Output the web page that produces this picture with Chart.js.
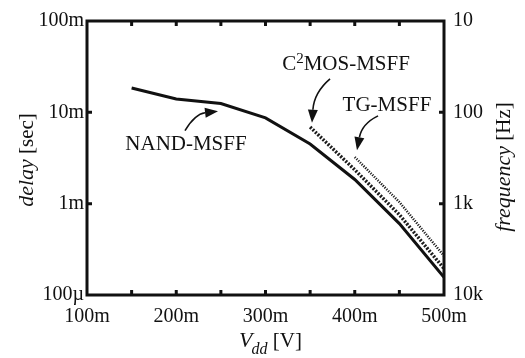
<!DOCTYPE html>
<html>
<head>
<meta charset="utf-8">
<script src="https://cdn.jsdelivr.net/npm/chart.js@4/dist/chart.umd.min.js"></script>
<style>
  html, body { margin: 0; padding: 0; background: #fff; }
  #wrap { width: 525px; height: 358px; }
</style>
</head>
<body>
<div id="wrap"><canvas id="delayChart" width="525" height="358"></canvas></div>
<script>
// supply voltage [V]
const vddNand = [0.15, 0.2, 0.25, 0.3, 0.35, 0.4, 0.45, 0.5];
const delayNand = [18.5e-3, 14.0e-3, 12.5e-3, 8.7e-3, 4.5e-3, 1.84e-3, 0.605e-3, 0.156e-3];
const vddC2mos = [0.35, 0.4, 0.45, 0.5];
const delayC2mos = [6.9e-3, 2.35e-3, 0.757e-3, 0.195e-3];
const vddTg = [0.4, 0.45, 0.5];
const delayTg = [3.24e-3, 1.04e-3, 0.268e-3];

const xTickValues = [0.1, 0.2, 0.3, 0.4, 0.5];
const xTickLabels = ["100m", "200m", "300m", "400m", "500m"];
const xMinorTicks = [0.15, 0.2, 0.25, 0.3, 0.35, 0.4, 0.45];
const delayTicks = [1e-4, 1e-3, 1e-2, 1e-1];
const delayTickLabels = ["100\u00b5", "1m", "10m", "100m"];
const freqTickLabels = ["10k", "1k", "100", "10"];

// annotation arrows, in data units: text centre, tail, bend, tip
const notes = [
  { text: "NAND-MSFF", at: [0.2109, 4.58e-3], tail: [0.2098, 6.31e-3], bend: [0.2210, 9.6e-3], tip: [0.2468, 1.03e-2] },
  { text: "C|2|MOS-MSFF", at: [0.3902, 0.0346], tail: [0.3723, 0.0233], bend: [0.3544, 0.0165], tip: [0.3521, 7.69e-3] },
  { text: "TG-MSFF", at: [0.4361, 0.01227], tail: [0.4261, 9.14e-3], bend: [0.4081, 7.5e-3], tip: [0.4025, 3.85e-3] }
];

const SERIF = "'Liberation Serif', 'Times New Roman', serif";
Chart.defaults.font.family = SERIF;
Chart.defaults.font.size = 20;
Chart.defaults.color = "#111";

const toPts = (xs, ys) => xs.map((x, i) => ({ x: x, y: ys[i] }));

// frame, inward ticks, axis titles and the arrow notes
const decorPlugin = {
  id: "decor",
  afterDraw(chart) {
    const ctx = chart.ctx;
    const a = chart.chartArea;
    const xs = chart.scales.x, ys = chart.scales.y;
    ctx.save();
    ctx.strokeStyle = "#111";
    ctx.fillStyle = "#111";

    ctx.lineWidth = 3;
    ctx.strokeRect(a.left, a.top, a.right - a.left, a.bottom - a.top);

    ctx.beginPath();
    xMinorTicks.forEach(v => {
      const p = xs.getPixelForValue(v);
      ctx.moveTo(p, a.bottom); ctx.lineTo(p, a.bottom - 5);
      ctx.moveTo(p, a.top); ctx.lineTo(p, a.top + 5);
    });
    delayTicks.slice(1, -1).forEach(v => {
      const p = ys.getPixelForValue(v);
      ctx.moveTo(a.left, p); ctx.lineTo(a.left + 5, p);
      ctx.moveTo(a.right, p); ctx.lineTo(a.right - 5, p);
    });
    ctx.stroke();

    // x title: V_dd [V]
    ctx.textBaseline = "alphabetic";
    ctx.textAlign = "left";
    const fV = "italic 22px " + SERIF, fSub = "italic 16px " + SERIF, fN = "21px " + SERIF;
    ctx.font = fV; const wV = ctx.measureText("V").width;
    ctx.font = fSub; const wS = ctx.measureText("dd").width;
    ctx.font = fN; const wB = ctx.measureText(" [V]").width;
    let x0 = 271 - (wV + wS + wB) / 2;
    ctx.font = fV; ctx.fillText("V", x0, 347);
    ctx.font = fSub; ctx.fillText("dd", x0 + wV - 1, 354);
    ctx.font = fN; ctx.fillText(" [V]", x0 + wV + wS - 1, 347);

    // rotated y titles
    const vTitle = (cx, cy, it, rest) => {
      ctx.save();
      ctx.translate(cx, cy);
      ctx.rotate(-Math.PI / 2);
      ctx.textBaseline = "middle";
      ctx.font = "italic 22px " + SERIF; const w1 = ctx.measureText(it).width;
      ctx.font = "21px " + SERIF; const w2 = ctx.measureText(rest).width;
      const s = -(w1 + w2) / 2;
      ctx.font = "italic 22px " + SERIF; ctx.fillText(it, s, 0);
      ctx.font = "21px " + SERIF; ctx.fillText(rest, s + w1, 0);
      ctx.restore();
    };
    vTitle(27, 160, "delay", " [sec]");
    vTitle(504, 167, "frequency", " [Hz]");

    // notes
    notes.forEach(n => {
      const P = p => [xs.getPixelForValue(p[0]), ys.getPixelForValue(p[1])];
      const c = P(n.at), t = P(n.tail), b = P(n.bend), h = P(n.tip);
      const parts = n.text.split("|");
      const big = "21px " + SERIF, small = "15px " + SERIF;
      let total = 0;
      parts.forEach((s, i) => { ctx.font = i === 1 ? small : big; total += ctx.measureText(s).width; });
      let px = c[0] - total / 2;
      parts.forEach((s, i) => {
        ctx.font = i === 1 ? small : big;
        ctx.fillText(s, px, c[1] + 7 - (i === 1 ? 7 : 0));
        px += ctx.measureText(s).width;
      });
      const ang = Math.atan2(h[1] - b[1], h[0] - b[0]);
      const L = 13, W = 5;
      const bx = h[0] - L * Math.cos(ang), by = h[1] - L * Math.sin(ang);
      ctx.lineWidth = 1.6;
      ctx.beginPath();
      ctx.moveTo(t[0], t[1]);
      ctx.quadraticCurveTo(b[0], b[1], bx, by);
      ctx.stroke();
      ctx.beginPath();
      ctx.moveTo(h[0], h[1]);
      ctx.lineTo(bx + W * Math.sin(ang), by - W * Math.cos(ang));
      ctx.lineTo(bx - W * Math.sin(ang), by + W * Math.cos(ang));
      ctx.closePath();
      ctx.fill();
    });
    ctx.restore();
  }
};

const tickLabel = labels => v => labels[delayTicks.findIndex(d => Math.abs(d - v) / d < 1e-6)];
const setDecades = s => { s.ticks = delayTicks.map(v => ({ value: v })); };

new Chart(document.getElementById("delayChart"), {
  type: "line",
  data: {
    datasets: [
      { label: "NAND-MSFF", data: toPts(vddNand, delayNand), borderColor: "#111", borderWidth: 3, pointRadius: 0 },
      { label: "C2MOS-MSFF", data: toPts(vddC2mos, delayC2mos), borderColor: "#1c1c1c", borderWidth: 3.5, borderDash: [2, 1.5], pointRadius: 0 },
      { label: "TG-MSFF", data: toPts(vddTg, delayTg), borderColor: "#1c1c1c", borderWidth: 2.5, borderDash: [1.2, 1.3], pointRadius: 0 }
    ]
  },
  options: {
    responsive: false,
    animation: false,
    devicePixelRatio: 1,
    layout: { padding: { top: 15, left: 0, right: 0, bottom: 0 } },
    plugins: { legend: { display: false }, tooltip: { enabled: false } },
    scales: {
      x: {
        type: "linear", min: 0.1, max: 0.5,
        grid: { display: false, drawTicks: false }, border: { display: false },
        afterBuildTicks: s => { s.ticks = xTickValues.map(v => ({ value: v })); },
        afterFit: s => { s.height = 63; },
        ticks: { padding: 10, maxRotation: 0, callback: (v, i) => xTickLabels[i] }
      },
      y: {
        type: "logarithmic", position: "left", min: 1e-4, max: 1e-1,
        grid: { display: false, drawTicks: false }, border: { display: false },
        afterBuildTicks: setDecades,
        afterFit: s => { s.width = 87; },
        ticks: { padding: 3, callback: tickLabel(delayTickLabels) }
      },
      y2: {
        type: "logarithmic", position: "right", min: 1e-4, max: 1e-1,
        grid: { display: false, drawTicks: false }, border: { display: false },
        afterBuildTicks: setDecades,
        afterFit: s => { s.width = 81; },
        ticks: { padding: 9, callback: tickLabel(freqTickLabels) }
      }
    }
  },
  plugins: [decorPlugin]
});
</script>
</body>
</html>
